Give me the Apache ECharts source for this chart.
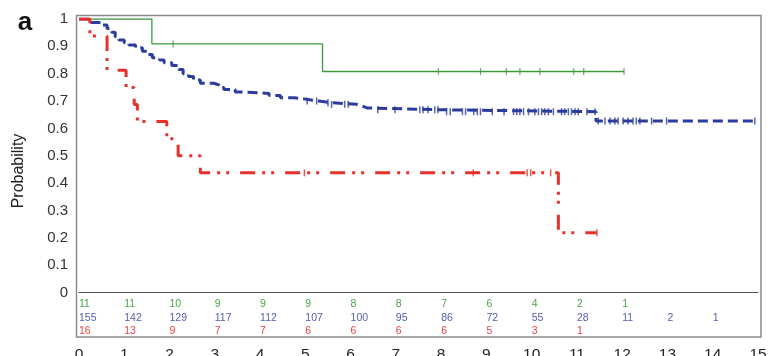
<!DOCTYPE html>
<html>
<head>
<meta charset="utf-8">
<script src="https://cdn.jsdelivr.net/npm/echarts@6/dist/echarts.min.js"></script>
<style>
html,body{margin:0;padding:0;background:#fff;}
#chart{width:771px;height:356px;}
</style>
</head>
<body>
<div id="chart"></div>
<script>
// ---- data ----
var xTicks = [0,1,2,3,4,5,6,7,8,9,10,11,12,13,14,15];
var yTicks = [0,0.1,0.2,0.3,0.4,0.5,0.6,0.7,0.8,0.9,1];

// Kaplan-Meier steps [time, survival after time]
var greenCurve = [[0,1],[1.61,0.909],[5.38,0.808],[12.04,0.808]];
var greenCensor = [2.08,7.94,8.87,9.44,9.74,10.18,10.93,11.15,12.04];

var blueCurve = [[0,1],[0.24,0.987],[0.5,0.978],[0.62,0.965],[0.72,0.952],[0.8,0.935],[0.88,0.923],
  [1.0,0.913],[1.1,0.905],[1.25,0.895],[1.4,0.882],[1.52,0.87],[1.62,0.858],[1.78,0.85],[1.88,0.84],
  [2.05,0.83],[2.2,0.815],[2.3,0.80],[2.42,0.79],[2.53,0.777],[2.68,0.765],[2.98,0.758],[3.1,0.75],
  [3.2,0.742],[3.45,0.733],[3.62,0.728],[4.2,0.72],[4.45,0.712],[4.75,0.707],[5.0,0.70],[5.3,0.694],
  [5.55,0.688],[6.13,0.682],[6.25,0.675],[6.36,0.668],[8.04,0.661],[11.42,0.627],[14.93,0.627]];
var blueCensor = [5.04,5.25,5.5,5.58,5.87,5.95,6.6,6.98,7.53,7.6,7.71,7.86,7.93,8.12,8.2,8.47,8.54,
  8.72,8.8,8.87,9.13,9.39,9.6,9.67,9.74,9.82,9.93,10.07,10.15,10.22,10.29,10.37,10.48,10.66,10.73,
  10.81,10.88,10.96,11.03,11.22,11.4,11.47,11.62,11.73,11.84,11.91,12.02,12.13,12.24,12.31,12.39,
  12.65,12.98,14.93];

var redCurve = [[0,1],[0.24,0.9375],[0.62,0.8125],[1.04,0.75],[1.22,0.6875],[1.29,0.625],[1.94,0.5625],
  [2.19,0.5],[2.68,0.4375],[10.59,0.21875],[11.44,0.21875]];
var redCensor = [4.98,8.71,9.9,9.98,10.42,11.44];

// numbers at risk at each year
var greenRisk = [11,11,10,9,9,9,8,8,7,6,4,2,1];
var blueRisk  = [155,142,129,117,112,107,100,95,86,72,55,28,11,2,1];
var redRisk   = [16,13,9,7,7,6,6,6,6,5,3,1];

var colGreen = '#3d9b3d', colBlue = '#2b3c9e', colRed = '#e8302a';

function survAt(curve, t){
  var s = curve[0][1];
  for (var i=0;i<curve.length;i++){ if (curve[i][0] <= t) s = curve[i][1]; }
  return s;
}
function censorPts(curve, times){ return times.map(function(t){ return [t, survAt(curve,t)]; }); }

var font = 'Liberation Sans, Arial, sans-serif';
function riskAxis(arr, color, margin){
  return {
    type:'value', min:0, max:15, interval:1, position:'bottom', offset:0, gridIndex:0,
    axisLine:{show:false}, axisTick:{show:false}, splitLine:{show:false},
    axisLabel:{show:true, margin:margin, align:'left', color:color, fontSize:10.5, fontFamily:font,
      formatter:function(v){ var i=Math.round(v); return arr[i]!==undefined ? String(arr[i]) : ''; }}
  };
}

var chart = echarts.init(document.getElementById('chart'));
chart.setOption({
  animation:false,
  backgroundColor:'#fff',
  grid:{left:79, right:13, top:19, bottom:63.5, containLabel:false, outerBoundsMode:'none'},
  xAxis:[
    {type:'value', min:xTicks[0], max:xTicks[xTicks.length-1], interval:1,
     axisLine:{show:true, lineStyle:{color:'#555', width:1.2}}, axisTick:{show:false}, splitLine:{show:false},
     axisLabel:{margin:54, fontSize:15.5, color:'#222', fontFamily:font}},
    riskAxis(greenRisk, '#49a649', 6),
    riskAxis(blueRisk, '#5560b0', 20),
    riskAxis(redRisk, '#ee4040', 33)
  ],
  yAxis:{type:'value', min:yTicks[0], max:yTicks[yTicks.length-1], interval:0.1,
    axisLine:{show:false}, axisTick:{show:false}, splitLine:{show:false},
    axisLabel:{margin:11, fontSize:15, color:'#333', fontFamily:font,
      formatter:function(v){ return (v===0||v===1) ? String(v) : v.toFixed(1); }}},
  graphic:[
    {type:'rect', shape:{x:76.5, y:15.5, width:684.5, height:321.5},
     style:{fill:'none', stroke:'#8a8a8a', lineWidth:1.5}, silent:true, z:-1},
    {type:'text', x:19, y:171, rotation:Math.PI/2,
     style:{text:'Probability', fontSize:16, fontFamily:font, fill:'#222', align:'center', verticalAlign:'middle'}},
    {type:'text', x:25, y:23,
     style:{text:'a', fontSize:26, fontWeight:'bold', fontFamily:font, fill:'#111', align:'center', verticalAlign:'middle'}}
  ],
  series:[
    {type:'line', step:'end', data:greenCurve, showSymbol:false, lineStyle:{color:colGreen, width:1.3}, z:3},
    {type:'scatter', data:censorPts(greenCurve, greenCensor), symbol:'rect', symbolSize:[1.2,7],
     itemStyle:{color:colGreen}, z:4},
    {type:'line', step:'end', data:blueCurve, showSymbol:false,
     lineStyle:{color:colBlue, width:3, type:[10,5]}, z:3},
    {type:'scatter', data:censorPts(blueCurve, blueCensor), symbol:'rect', symbolSize:[1.5,7],
     itemStyle:{color:colBlue}, z:4},
    {type:'line', step:'end', data:redCurve, showSymbol:false,
     lineStyle:{color:colRed, width:3, type:[15,7,3,6,3,11]}, z:3},
    {type:'scatter', data:censorPts(redCurve, redCensor), symbol:'rect', symbolSize:[1.5,7],
     itemStyle:{color:colRed}, z:4}
  ]
});
</script>
</body>
</html>
